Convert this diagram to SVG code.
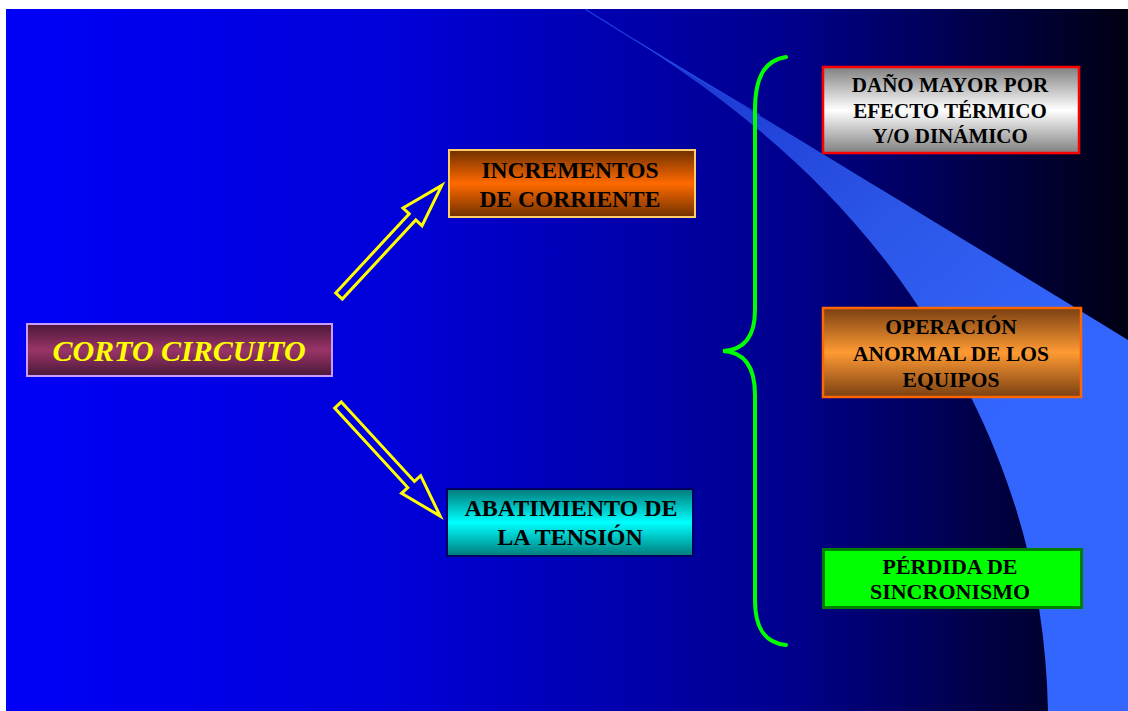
<svg xmlns="http://www.w3.org/2000/svg" width="1128" height="711" viewBox="0 0 1128 711">
<defs>
<linearGradient id="bg" x1="0" y1="0" x2="1" y2="0">
<stop offset="0" stop-color="#0000f8"/>
<stop offset="0.35" stop-color="#0000d8"/>
<stop offset="0.7" stop-color="#00008c"/>
<stop offset="1" stop-color="#000012"/>
</linearGradient>
<linearGradient id="band" gradientUnits="userSpaceOnUse" x1="620" y1="20" x2="1000" y2="420">
<stop offset="0" stop-color="#3366ff" stop-opacity="0.45"/>
<stop offset="0.6" stop-color="#3366ff" stop-opacity="0.85"/>
<stop offset="1" stop-color="#3366ff" stop-opacity="1"/>
</linearGradient>
<linearGradient id="gCorto" x1="0" y1="0" x2="0" y2="1">
<stop offset="0" stop-color="#4a1838"/><stop offset="0.5" stop-color="#9a3468"/><stop offset="1" stop-color="#4a1838"/>
</linearGradient>
<linearGradient id="gInc" x1="0" y1="0" x2="0" y2="1">
<stop offset="0" stop-color="#703000"/><stop offset="0.5" stop-color="#ff6a00"/><stop offset="1" stop-color="#703000"/>
</linearGradient>
<linearGradient id="gAba" x1="0" y1="0" x2="0" y2="1">
<stop offset="0" stop-color="#007a7a"/><stop offset="0.5" stop-color="#00ffff"/><stop offset="1" stop-color="#007a7a"/>
</linearGradient>
<linearGradient id="gDan" x1="0" y1="0" x2="0" y2="1">
<stop offset="0" stop-color="#808080"/><stop offset="0.5" stop-color="#ffffff"/><stop offset="1" stop-color="#808080"/>
</linearGradient>
<linearGradient id="gOpe" x1="0" y1="0" x2="0" y2="1">
<stop offset="0" stop-color="#7a4012"/><stop offset="0.5" stop-color="#ff9a33"/><stop offset="1" stop-color="#7a4012"/>
</linearGradient>
<path id="arrowShape" d="M0,-4.5 L108,-4.5 L108,-13 L151,0 L108,13 L108,4.5 L0,4.5 Z"/>
</defs>
<style>
.t{font-family:"Liberation Serif","Times New Roman",serif;font-weight:bold;fill:#000;text-anchor:middle}
.arrow{fill:none;stroke:#ffff00;stroke-width:3;stroke-linejoin:miter}
.brace{fill:none;stroke:#00ff00;stroke-width:4;stroke-linecap:round}
</style>
<rect x="0" y="0" width="1128" height="711" fill="#ffffff"/>
<rect x="6" y="9" width="1122" height="702" fill="url(#bg)"/>
<path d="M585,9 C700,80 900,200 1128,340 L1128,711 L1048,711 C1045,560 1000,420 900,280 C820,170 720,90 585,9 Z" fill="url(#band)"/>
<path d="M585,9 C650,50 700,80 760,115" fill="none" stroke="#3366ff" stroke-opacity="0.6" stroke-width="1.2"/>

<g id="connectors">
<use href="#arrowShape" class="arrow" transform="translate(339,296) rotate(-47.1)"/>
<use href="#arrowShape" class="arrow" transform="translate(338,405) rotate(47.4)"/>
<path class="brace" d="M786,57 C766,60 755,75 755,110 L755,310 C755,335 745,350 723,351 C745,352 755,368 755,395 L755,600 C755,630 766,643 786,645"/>
</g>

<g id="corto">
<rect x="27" y="324" width="305" height="52" fill="url(#gCorto)" stroke="#cc99ff" stroke-width="2"/>
<text x="179" y="361" class="t" style="font-style:italic;font-size:30px;fill:#ffff00">CORTO CIRCUITO</text>
</g>

<g id="incrementos">
<rect x="449" y="150" width="246" height="67" fill="url(#gInc)" stroke="#ffcc66" stroke-width="2"/>
<text x="570" y="178" class="t" style="font-size:23.5px">INCREMENTOS</text>
<text x="570" y="207" class="t" style="font-size:23.5px">DE CORRIENTE</text>
</g>

<g id="abatimiento">
<rect x="447" y="489" width="246" height="67" fill="url(#gAba)" stroke="#000060" stroke-width="2"/>
<text x="571" y="516" class="t" style="font-size:24px">ABATIMIENTO  DE</text>
<text x="570" y="545" class="t" style="font-size:24px">LA TENSIÓN</text>
</g>

<g id="dano">
<rect x="823" y="67" width="256" height="86" fill="url(#gDan)" stroke="#ff0000" stroke-width="2.5"/>
<text x="950" y="92" class="t" style="font-size:21px">DAÑO MAYOR POR</text>
<text x="950" y="118" class="t" style="font-size:21px">EFECTO TÉRMICO</text>
<text x="950" y="143" class="t" style="font-size:21px">Y/O DINÁMICO</text>
</g>

<g id="operacion">
<rect x="823" y="308" width="258" height="89" fill="url(#gOpe)" stroke="#ff6600" stroke-width="2.5"/>
<text x="951" y="334" class="t" style="font-size:21.5px">OPERACIÓN</text>
<text x="951" y="361" class="t" style="font-size:21.5px">ANORMAL DE LOS</text>
<text x="951" y="387" class="t" style="font-size:21.5px">EQUIPOS</text>
</g>

<g id="perdida">
<rect x="823.5" y="549.5" width="258" height="58" fill="#00ff00" stroke="#008000" stroke-width="3"/>
<text x="950" y="574" class="t" style="font-size:22px">PÉRDIDA DE</text>
<text x="950" y="599" class="t" style="font-size:22px">SINCRONISMO</text>
</g>
</svg>
